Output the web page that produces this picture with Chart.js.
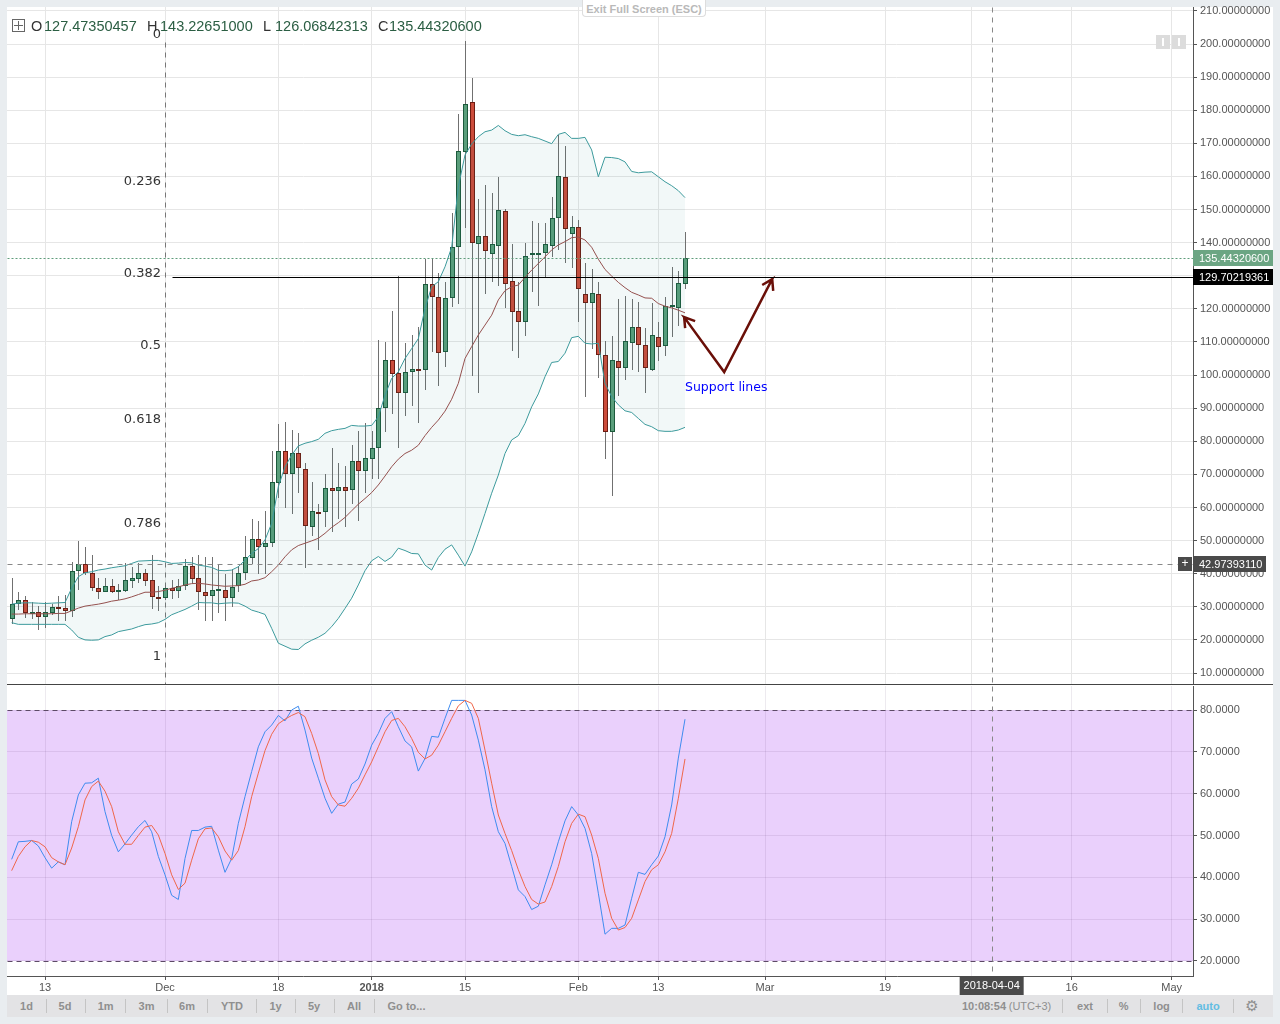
<!DOCTYPE html>
<html>
<head>
<meta charset="utf-8">
<script src="https://cdn.jsdelivr.net/npm/chart.js@4/dist/chart.umd.js"></script>
<style>
html, body { margin: 0; padding: 0; width: 1280px; height: 1024px; overflow: hidden; background: #e9edf0; font-family: "Liberation Sans", Arial, sans-serif; }
.panel { position: absolute; left: 7px; top: 7px; width: 1266px; height: 988px; background: #fff; }
canvas { position: absolute; left: 0; }
#priceChart { top: 0; }
#stochChart { top: 686px; }
.divider { position: absolute; left: 7px; top: 684px; width: 1266px; height: 1px; background: #444; }
.toolbar { position: absolute; left: 7px; top: 995px; width: 1266px; height: 22px; background: #e3e3e5; }
.lbl { position: absolute; white-space: pre; }
.bar-item { position: absolute; top: 1006px; transform: translate(-50%, -50%); font-size: 11px; font-weight: bold; color: #8f8f8f; white-space: pre; }
.sep { position: absolute; top: 999px; width: 1px; height: 14px; background: #c4c4c4; }
.exit { position: absolute; left: 582px; top: 0; width: 124px; height: 17px; background: #fff; border: 1px solid #ddd; border-top: 0; border-radius: 0 0 4px 4px; box-sizing: border-box; text-align: center; font-size: 11px; line-height: 18px; font-weight: bold; color: #b9b9b9; }
.legend-box { position: absolute; left: 12px; top: 19px; width: 13px; height: 13px; border: 1px solid #666; box-sizing: border-box; }
.legend-box::before { content: ""; position: absolute; left: 5px; top: 1px; width: 1px; height: 9px; background: #666; }
.legend-box::after { content: ""; position: absolute; left: 1px; top: 5px; width: 9px; height: 1px; background: #666; }
.ohlc { top: 18px; font-size: 14.5px; line-height: 17px; color: #333; }
.ohlc.num { color: #2b5e43; }
.nudge { position: absolute; top: 35px; width: 14px; height: 14px; background: #dcdcdc; }
.nudge i { position: absolute; left: 6px; top: 3px; width: 2px; height: 8px; background: #fff; }
</style>
</head>
<body>
<div class="panel"></div>
<canvas id="priceChart" width="1280" height="685"></canvas>
<canvas id="stochChart" width="1280" height="310"></canvas>
<div class="divider"></div>
<div class="toolbar"></div>

<div class="exit">Exit Full Screen (ESC)</div>
<div class="legend-box"></div>
<span class="lbl ohlc" style="left:31px">O</span><span class="lbl ohlc num" style="left:44px">127.47350457</span>
<span class="lbl ohlc" style="left:147px">H</span><span class="lbl ohlc num" style="left:160px">143.22651000</span>
<span class="lbl ohlc" style="left:263px">L</span><span class="lbl ohlc num" style="left:275px">126.06842313</span>
<span class="lbl ohlc" style="left:378px">C</span><span class="lbl ohlc num" style="left:389px">135.44320600</span>
<div class="nudge" style="left:1156px"><i></i></div>
<div class="nudge" style="left:1172px"><i></i></div>

<script>
// day numbers count from 13 Nov 2017 = 0
const firstDay = -5;

const opens = [
    26.2, 30.7, 32.2, 28.1, 28.3, 27, 28.2, 29.8, 29.5, 28.8,
    40.7, 42.8, 40.1, 35.8, 34.6, 36.2, 34.6, 34.9, 37.9, 38.5,
    40.1, 38, 33.1, 32.7, 35.8, 34.8, 36.4, 42.2, 38.6, 34.6,
    33.3, 35.1, 35.2, 32.7, 36.2, 40.3, 44.6, 50.4, 48.2, 49.3,
    67.3, 77.2, 70, 76.6, 71.5, 54, 58.6, 58.5, 65.8, 65.1,
    66.1, 65.2, 73.9, 71.1, 74.7, 78.1, 89.9, 104.7, 100.5, 94.5,
    100.8, 101.8, 101.4, 127.4, 123.7, 106.9, 123.2, 138.6, 167.5, 182.4,
    139.7, 141.9, 136.7, 139, 149.7, 128.3, 119.3, 116.1, 136.4, 136.7,
    137, 138.9, 147.3, 159.7, 142.7, 144.6, 124.5, 121.7, 124.4, 106.2,
    82.7, 104.1, 102, 109.6, 114.4, 109, 101.6, 111.4, 108.7, 121, 120.4, 127.47
];
const closes = [
    30.7, 32.2, 28.2, 28.4, 27, 28.3, 29.8, 29.4, 28.8, 40.7,
    43, 40.1, 35.8, 34.5, 36.2, 34.6, 35, 38, 38.6, 40.1,
    37.9, 33.1, 32.7, 35.8, 34.9, 36.4, 42.2, 38.5, 34.6, 33.3,
    35.2, 35.4, 32.7, 36, 40.3, 44.9, 50.4, 48, 49.4, 67.6,
    77.2, 70, 76.6, 71.8, 54.3, 58.8, 58.4, 65.8, 65.1, 66.1,
    65.1, 73.9, 71.1, 74.8, 78.1, 89.9, 104.7, 100.4, 94.5, 100.8,
    101.7, 101.4, 127.4, 123.7, 106.6, 123.2, 138.6, 167.6, 181.8, 139.8,
    141.9, 137.6, 139.5, 150, 127.4, 119.1, 116.1, 136.1, 137, 137,
    139.5, 147.3, 160, 144, 144.6, 125.9, 121.7, 124.7, 106.2, 82.7,
    104.7, 102, 110.2, 114.4, 109, 102, 112, 108.6, 120.9, 121.2, 127.7, 135.44
];
const highs = [
    38.6, 34.4, 33.2, 31.6, 30.2, 31.5, 30.8, 33.2, 33.5, 43.5,
    49.8, 48, 45.6, 38.6, 38.6, 38.3, 37, 43.1, 42, 43.1,
    41.3, 45.6, 36.3, 36.5, 38, 38.5, 44.3, 45.1, 45.6, 45.1,
    45.1, 42.9, 39.8, 41.3, 42.3, 51.3, 56.5, 55.9, 58.9, 77,
    85.2, 85.7, 83.4, 82.5, 73.3, 67.6, 61.2, 70.1, 78.1, 73.3,
    72.5, 78.9, 83, 85.4, 83, 110.6, 110, 119.3, 129.9, 109.6,
    112.1, 114.6, 135, 135, 130.7, 128, 149.1, 178.8, 201, 189.8,
    153.2, 157.4, 154.9, 159.8, 150.3, 139.6, 128.2, 139.8, 146.5, 146,
    145.9, 153.8, 172.5, 169.2, 148, 146.8, 133.7, 131.9, 128, 110.3,
    111.8, 123, 124, 122.9, 122, 114.2, 121.7, 116, 123.5, 132.5, 131.4, 143.23
];
const lows = [
    24.7, 29, 26.7, 26.3, 23, 23.5, 27.5, 25.7, 25.7, 27,
    35, 39.6, 34.7, 32.4, 34.5, 34.3, 32, 34.6, 35.6, 37.3,
    36.4, 29.3, 28.7, 32, 32.5, 32.6, 35, 37, 29, 25.7,
    25.7, 28.2, 25.8, 30, 34.5, 38, 42.8, 40, 40, 48.1,
    62.8, 59.9, 58.1, 64.5, 41.7, 51.5, 47.3, 54.2, 52.7, 56.4,
    54.2, 61, 56, 64.4, 68.6, 68.6, 82.8, 88.2, 78, 87.7,
    90.7, 85.6, 95.5, 107, 96.8, 102.5, 120.6, 121.4, 144.5, 99.8,
    94.6, 124.5, 128.2, 126.9, 120.3, 107.4, 105.2, 111.9, 125.2, 120.9,
    129.6, 135.7, 137.8, 133.9, 132.4, 116.1, 93.5, 107.8, 99, 74.7,
    63.6, 93.7, 98.5, 101.5, 101, 94.7, 101.3, 104.3, 105.7, 111.6, 114.8, 126.07
];

// Bollinger bands
const bandUpper = [
    30.8, 31.1, 31.2, 31.2, 31.1, 31, 31.1, 31.2, 31.3, 35.6,
    39.1, 40.3, 40.6, 41.1, 41.4, 41.8, 42.1, 42.4, 43.1, 43.8,
    43.9, 44, 44, 43.6, 43.1, 43.2, 43.4, 43.3, 42.6, 42.3,
    41.9, 41, 40.9, 41.1, 42.1, 44.1, 46.1, 47.6, 50.2, 55.2,
    66.3, 72.3, 75.8, 78.6, 79.4, 79.9, 80.6, 82.4, 83.2, 83.6,
    83.9, 84.8, 84.6, 84.6, 84.8, 87.4, 93.9, 99, 101, 105,
    108, 111, 120.1, 126.7, 128.2, 132.7, 138.6, 156.9, 166.5, 169.8,
    172, 173.5, 174, 175.4, 173.8, 172.7, 172.3, 172.6, 172, 171.5,
    170.7, 169.9, 172.7, 173.3, 171.5, 171.5, 171.8, 168, 159.9, 165.8,
    165.7, 165.4, 164.4, 161.5, 161.1, 161.3, 161.4, 159.9, 158.4, 157.2, 155.7, 153.6
];
const bandLower = [
    25.2, 24.7, 24.7, 24.7, 24.7, 24.7, 24.7, 24.7, 24.7, 23,
    20.8, 20, 19.9, 20, 21, 21.5, 22.5, 22.9, 23.3, 24,
    24.6, 24.8, 25.2, 26.2, 27.6, 28.4, 29.2, 30.2, 31.3, 31.2,
    31.2, 30.9, 31.1, 31.2, 31.1, 30.2, 29, 28.4, 27.7, 23.5,
    19, 18.1, 17.2, 17.1, 18.8, 19.9, 20.8, 22, 24, 26.5,
    29.5, 32.6, 36.6, 40.9, 43.9, 45.2, 43.7, 45, 47.7, 47,
    46.1, 46, 42.6, 41.1, 44.9, 47.4, 48.7, 45.6, 42.3, 46.6,
    52.2, 58.2, 64.3, 69.8, 76.3, 80.4, 81.7, 85.4, 90.4, 94.3,
    99.5, 103.8, 104.1, 106.6, 111.3, 111.7, 109.6, 109.4, 109.6, 97.5,
    93.5, 91, 89.2, 88.7, 86.9, 85.1, 84.4, 83.2, 83, 83, 83.4, 84.2
];
const bandBasis = [
    27.8, 27.8, 27.9, 27.9, 27.9, 27.9, 27.9, 28, 28, 28.8,
    29.6, 30.2, 30.5, 30.8, 31.2, 31.7, 32, 32.4, 33, 33.7,
    34.4, 34.4, 34.6, 35, 35.6, 36, 36.6, 37, 37.1, 36.9,
    36.6, 36.4, 36.2, 36.3, 36.4, 36.8, 37.8, 38.1, 38.8, 40.6,
    42.6, 45.1, 47.2, 48.5, 49.2, 49.9, 50.7, 52.2, 54, 55.4,
    57, 59, 61, 62.7, 64.5, 66.8, 69.5, 72.3, 74.6, 76.3,
    77.3, 78.8, 81.7, 84.2, 86.4, 89.1, 92.7, 97.5, 105, 108.6,
    112.1, 115.1, 118.1, 122.7, 125.5, 126.7, 127.2, 129.5, 131.7, 133.7,
    135.7, 137.8, 139.3, 140.3, 141.5, 141.7, 140.8, 138.6, 135, 131.9,
    129.9, 128, 126.4, 125, 124.2, 123.3, 123.2, 121.6, 120.8, 120.3, 119.6, 118.8
];

// Stochastic RSI
const stochK = [
    44.3, 48.5, 48.6, 48.8, 47.5, 44.7, 42.2, 43.7, 43, 53.3,
    59.7, 62.5, 62.6, 63.7, 55.7, 50, 46.1, 48, 50.1, 52.1,
    53.6, 50.9, 45, 40.6, 35.7, 34.7, 44.5, 51.2, 51.2, 52,
    52.2, 46.5, 41.2, 44.5, 52.9, 59.3, 65.3, 71.2, 74.8, 76.4,
    78.7, 77.4, 80, 80.9, 75.2, 68.5, 63.7, 58.9, 55.3, 57.5,
    58, 62.3, 63.5, 67.1, 71.6, 74.4, 78, 79.6, 76, 72.6,
    71.2, 65.4, 68.4, 73.7, 73.5, 78, 82.3, 82.3, 82.3, 78.8,
    72.8, 65.7, 56.9, 50.9, 48.1, 42.6, 37, 35.4, 32.3, 33.1,
    38.2, 43, 48.5, 53.5, 56.9, 54.9, 51.7, 45.7, 36.2, 26.4,
    27.8, 27.8, 28.6, 35, 41.2, 40.7, 43, 45.1, 49.7, 57.3, 68.5, 77.8
];
const stochD = [
    41.6, 45, 47.3, 48.8, 48.4, 47.3, 44.7, 43.7, 43, 47,
    52.1, 58.5, 61.7, 63, 60.6, 56.9, 50.9, 47.9, 47.9, 50,
    52, 52.4, 50.1, 45.7, 40.6, 37.1, 38.6, 44.1, 49.2, 51.6,
    51.8, 49.7, 46.3, 44.1, 46.4, 52.1, 59.3, 64.9, 70.3, 74.2,
    76.7, 77.8, 78.7, 79.4, 78.4, 74.4, 69.6, 63.3, 59.3, 57.3,
    57, 58.9, 61.3, 64.5, 67.6, 71.2, 74.8, 77.5, 78, 76,
    73.2, 69.9, 68.3, 69.2, 71.6, 74.8, 78, 81, 82.3, 81.6,
    78, 70.4, 62.5, 54.9, 50.5, 46.4, 41.8, 37.8, 34.7, 33.6,
    34.1, 37.8, 42.6, 48.5, 52.9, 55.1, 54.5, 50.1, 44.5, 36.2,
    30.2, 27.4, 28, 30.2, 34.6, 39, 41.8, 43, 46.1, 50.5, 58.9, 68.3
];

// hand drawn arrows, in day / price units
const arrowDays = [96.02, 95.87, 97.52, 95.87, 101.88, 109.08, 107.58, 109.08, 109.23];
const arrowPrices = [114.2, 117.5, 116.3, 117.5, 100.9, 129.0, 127.2, 129.0, 125.4];

// time axis
const xTickDays = [0, 18, 35, 49, 63, 80, 92, 108, 126, 139, 154, 169];
const xTickLabels = ['13', 'Dec', '18', '2018', '15', 'Feb', '13', 'Mar', '19', 'Apr', '16', 'May'];

// price axis ticks and levels
const priceStep = 10;
const stochStep = 10;
const lastPrice = 135.44320600;
const supportPrice = 129.70219361;
const crossPrice = 42.97393110;
const crossDay = 142;
const fibDay = 18;
const fibLineStartDay = 19.05;
const fibLabels = ['0', '0.236', '0.382', '0.5', '0.618', '0.786', '1'];
const fibPrices = [202.7, 158.3, 130.5, 108.8, 86.4, 55, 15];
const noteDay = 96;
const notePrice = 96.1;
const stochBandTop = 80;
const stochBandBottom = 20;

const days = opens.map((_, i) => firstDay + i);
const toPoints = (xs, ys) => xs.map((x, i) => ({ x: x, y: ys[i] }));

const gridGray = '#e6e6e6';
const axisGray = '#555';

function xAxis(showLabels, gridColor) {
    return {
        type: 'linear',
        offset: false,
        min: -5.7,
        max: 172.2,
        grid: { color: gridColor, offset: false, drawTicks: showLabels, tickLength: 4, tickColor: axisGray },
        border: { display: showLabels, color: axisGray },
        afterBuildTicks: function (scale) {
            scale.ticks = xTickDays.map(d => ({ value: d }));
        },
        afterFit: function (scale) {
            scale.height = showLabels ? 20 : 0;
            scale.paddingLeft = 0;
            scale.paddingRight = 0;
        },
        ticks: {
            display: showLabels,
            autoSkip: false,
            maxRotation: 0,
            padding: 1,
            color: axisGray,
            font: function (ctx) {
                const isYear = ctx.tick && ctx.tick.label === '2018';
                return { family: '"Liberation Sans", Arial, sans-serif', size: 11, weight: isYear ? 'bold' : 'normal' };
            },
            callback: function (value) {
                return xTickLabels[xTickDays.indexOf(value)];
            }
        }
    };
}

function yAxis(min, max, step, digits, gridColor) {
    return {
        position: 'right',
        min: min,
        max: max,
        grid: { color: gridColor, tickLength: 4, tickColor: axisGray },
        border: { color: axisGray },
        afterFit: function (scale) {
            // tick label overhang must not push the plot area in
            scale.width = 80;
            scale.paddingTop = 0;
            scale.paddingBottom = 0;
        },
        ticks: {
            stepSize: step,
            includeBounds: false,
            autoSkip: false,
            maxTicksLimit: 40,
            padding: 3,
            color: axisGray,
            font: { family: '"Liberation Sans", Arial, sans-serif', size: 11 },
            callback: function (value) {
                return value.toFixed(digits);
            }
        }
    };
}

function dashedLine(ctx, x1, y1, x2, y2, color, dash, width) {
    ctx.save();
    ctx.strokeStyle = color;
    ctx.lineWidth = width || 1;
    ctx.setLineDash(dash);
    ctx.beginPath();
    ctx.moveTo(Math.round(x1) + 0.5, Math.round(y1) + 0.5);
    ctx.lineTo(Math.round(x2) + 0.5, Math.round(y2) + 0.5);
    ctx.stroke();
    ctx.restore();
}

function priceTag(ctx, left, right, y, color, text) {
    ctx.save();
    ctx.fillStyle = color;
    ctx.fillRect(left, Math.round(y) - 8, right - left, 16);
    ctx.fillStyle = '#fff';
    ctx.font = '11px "Liberation Sans", Arial, sans-serif';
    ctx.textBaseline = 'middle';
    ctx.fillText(text, left + 6, Math.round(y) + 0.5);
    ctx.restore();
}

// keeps candles on whole pixels so wicks stay one pixel wide
const snapCandles = {
    id: 'snapCandles',
    afterDatasetsUpdate: function (chart) {
        [0, 1].forEach(function (index) {
            chart.getDatasetMeta(index).data.forEach(function (bar) {
                bar.x = Math.round(bar.x) + 0.5;
                bar.y = Math.round(bar.y);
                bar.base = Math.round(bar.base);
                if (index === 1 && Math.abs(bar.y - bar.base) < 2) bar.base = bar.y + 2;
            });
        });
    }
};

// levels, fib labels and price tags of the main pane
const priceOverlay = {
    id: 'priceOverlay',
    beforeDatasetsDraw: function (chart) {
        const ctx = chart.ctx, x = chart.scales.x, y = chart.scales.y, area = chart.chartArea;
        dashedLine(ctx, x.getPixelForValue(fibDay), y.getPixelForValue(fibPrices[0]) + 7, x.getPixelForValue(fibDay), area.bottom, '#777', [5, 5]);
        dashedLine(ctx, x.getPixelForValue(crossDay), area.top, x.getPixelForValue(crossDay), area.bottom, '#888', [5, 5]);
    },
    afterDatasetsDraw: function (chart) {
        const ctx = chart.ctx, x = chart.scales.x, y = chart.scales.y, area = chart.chartArea;
        dashedLine(ctx, area.left, y.getPixelForValue(lastPrice), area.right, y.getPixelForValue(lastPrice), '#5f9c7b', [2, 2]);
        dashedLine(ctx, x.getPixelForValue(fibLineStartDay), y.getPixelForValue(supportPrice), area.right, y.getPixelForValue(supportPrice), '#000', []);
        dashedLine(ctx, area.left, y.getPixelForValue(crossPrice), area.right, y.getPixelForValue(crossPrice), '#888', [5, 5]);

        ctx.save();
        ctx.font = '13px "DejaVu Sans", sans-serif';
        ctx.fillStyle = '#333';
        ctx.textAlign = 'right';
        ctx.textBaseline = 'middle';
        fibLabels.forEach((label, i) => ctx.fillText(label, x.getPixelForValue(fibDay) - 4, y.getPixelForValue(fibPrices[i])));
        ctx.font = '12.5px "DejaVu Sans", sans-serif';
        ctx.fillStyle = '#0000ff';
        ctx.textAlign = 'left';
        ctx.fillText('Support lines', x.getPixelForValue(noteDay), y.getPixelForValue(notePrice));
        ctx.restore();

        priceTag(ctx, area.right, 1273, y.getPixelForValue(lastPrice), '#6ba583', lastPrice.toFixed(8));
        priceTag(ctx, area.right, 1273, y.getPixelForValue(supportPrice), '#000', supportPrice.toFixed(8));
        priceTag(ctx, area.right, 1266, y.getPixelForValue(crossPrice), '#4a4a4a', crossPrice.toFixed(8));

        // plus button beside the crosshair tag
        const cy = Math.round(y.getPixelForValue(crossPrice));
        ctx.save();
        ctx.fillStyle = '#4a4a4a';
        ctx.fillRect(area.right - 15, cy - 7, 14, 14);
        ctx.fillStyle = '#fff';
        ctx.font = '12px "Liberation Sans", Arial, sans-serif';
        ctx.textAlign = 'center';
        ctx.textBaseline = 'middle';
        ctx.fillText('+', area.right - 8, cy);
        ctx.restore();
    }
};

// purple band and crosshair of the lower pane
const stochOverlay = {
    id: 'stochOverlay',
    beforeDraw: function (chart) {
        const ctx = chart.ctx, y = chart.scales.y, area = chart.chartArea;
        const top = y.getPixelForValue(stochBandTop), bottom = y.getPixelForValue(stochBandBottom);
        ctx.save();
        ctx.fillStyle = '#ead0fc';
        ctx.fillRect(area.left, top, area.right - area.left, bottom - top);
        ctx.restore();
    },
    beforeDatasetsDraw: function (chart) {
        const ctx = chart.ctx, x = chart.scales.x, y = chart.scales.y, area = chart.chartArea;
        dashedLine(ctx, area.left, y.getPixelForValue(stochBandTop), area.right, y.getPixelForValue(stochBandTop), '#5d4a66', [5, 4]);
        dashedLine(ctx, area.left, y.getPixelForValue(stochBandBottom), area.right, y.getPixelForValue(stochBandBottom), '#5d4a66', [5, 4]);
        dashedLine(ctx, x.getPixelForValue(crossDay), area.top, x.getPixelForValue(crossDay), area.bottom, '#888', [5, 5]);
    },
    afterDraw: function (chart) {
        const ctx = chart.ctx, x = chart.scales.x, area = chart.chartArea;
        const cx = x.getPixelForValue(crossDay);
        ctx.save();
        ctx.fillStyle = '#4a4a4a';
        ctx.fillRect(cx - 32, area.bottom, 64, 19);
        ctx.fillStyle = '#fff';
        ctx.font = '11px "Liberation Sans", Arial, sans-serif';
        ctx.textAlign = 'center';
        ctx.textBaseline = 'middle';
        ctx.fillText('2018-04-04', cx, area.bottom + 10);
        ctx.restore();
    }
};

const lineStyle = { type: 'line', pointRadius: 0, borderWidth: 1, tension: 0, fill: false };

new Chart(document.getElementById('priceChart'), {
    type: 'bar',
    plugins: [snapCandles, priceOverlay],
    data: {
        datasets: [{
                label: 'Wicks',
                data: days.map((d, i) => ({ x: d, y: [lows[i], highs[i]] })),
                backgroundColor: '#707070',
                barThickness: 1,
                inflateAmount: 0,
                grouped: false,
                order: 5
            },
            {
                label: 'Bodies',
                data: days.map((d, i) => ({ x: d, y: [opens[i], closes[i]] })),
                backgroundColor: days.map((d, i) => closes[i] >= opens[i] ? '#5a9e7b' : '#cc4c3b'),
                borderColor: days.map((d, i) => closes[i] >= opens[i] ? '#1c5a3c' : '#6e1c12'),
                borderWidth: 1,
                borderSkipped: false,
                barThickness: 5,
                inflateAmount: 0,
                grouped: false,
                order: 4
            },
            {
                ...lineStyle,
                label: 'Upper',
                data: toPoints(days, bandUpper),
                borderColor: '#3c9a9c',
                fill: { target: 3, above: 'rgba(40,130,130,0.06)', below: 'rgba(40,130,130,0.06)' },
                order: 3
            },
            {
                ...lineStyle,
                label: 'Lower',
                data: toPoints(days, bandLower),
                borderColor: '#3c9a9c',
                order: 2
            },
            {
                ...lineStyle,
                label: 'Basis',
                data: toPoints(days, bandBasis),
                borderColor: '#94504e',
                order: 1
            },
            {
                ...lineStyle,
                label: 'Arrows',
                data: toPoints(arrowDays, arrowPrices),
                borderColor: '#6a0f08',
                borderWidth: 2.5,
                order: 0
            }
        ]
    },
    options: {
        responsive: false,
        animation: false,
        events: [],
        layout: { padding: { left: 7, right: 7, top: 7, bottom: 1 } },
        plugins: { legend: { display: false }, tooltip: { enabled: false } },
        scales: {
            x: xAxis(false, gridGray),
            y: yAxis(6.68, 211.18, priceStep, 8, gridGray)
        }
    }
});

new Chart(document.getElementById('stochChart'), {
    type: 'line',
    plugins: [stochOverlay],
    data: {
        datasets: [{
                ...lineStyle,
                label: '%K',
                data: toPoints(days, stochK),
                borderColor: '#3f8cf0',
                order: 2
            },
            {
                ...lineStyle,
                label: '%D',
                data: toPoints(days, stochD),
                borderColor: '#f0674a',
                order: 1
            }
        ]
    },
    options: {
        responsive: false,
        animation: false,
        events: [],
        layout: { padding: { left: 7, right: 7, top: 0, bottom: 0 } },
        plugins: { legend: { display: false }, tooltip: { enabled: false } },
        scales: {
            x: xAxis(true, 'rgba(80,50,100,0.1)'),
            y: yAxis(16.41, 85.74, stochStep, 4, 'rgba(80,50,100,0.1)')
        }
    }
});

// bottom toolbar
const leftButtons = [['1d', 26.5], ['5d', 65], ['1m', 105.7], ['3m', 146.5], ['6m', 187], ['YTD', 232], ['1y', 275.5], ['5y', 314], ['All', 354], ['Go to...', 406.5]];
const leftSeps = [45.7, 84.5, 125, 166.5, 207, 256, 295, 333.5, 373.5];
const rightButtons = [['10:08:54', 984], ['(UTC+3)', 1030], ['ext', 1085], ['%', 1123.7], ['log', 1161.6], ['auto', 1208], ['\u2699', 1252]];
const rightSeps = [1062.4, 1106.5, 1140, 1182.4, 1232.7];

leftButtons.concat(rightButtons).forEach(function (b) {
    const el = document.createElement('span');
    el.className = 'bar-item';
    el.textContent = b[0];
    el.style.left = b[1] + 'px';
    if (b[0] === 'auto') el.style.color = '#62bde3';
    if (b[0] === '(UTC+3)') el.style.fontWeight = 'normal';
    if (b[0] === '\u2699') { el.style.fontSize = '15px'; el.style.fontFamily = '"DejaVu Sans", sans-serif'; }
    document.body.appendChild(el);
});
leftSeps.concat(rightSeps).forEach(function (x) {
    const el = document.createElement('div');
    el.className = 'sep';
    el.style.left = x + 'px';
    document.body.appendChild(el);
});
</script>
</body>
</html>
